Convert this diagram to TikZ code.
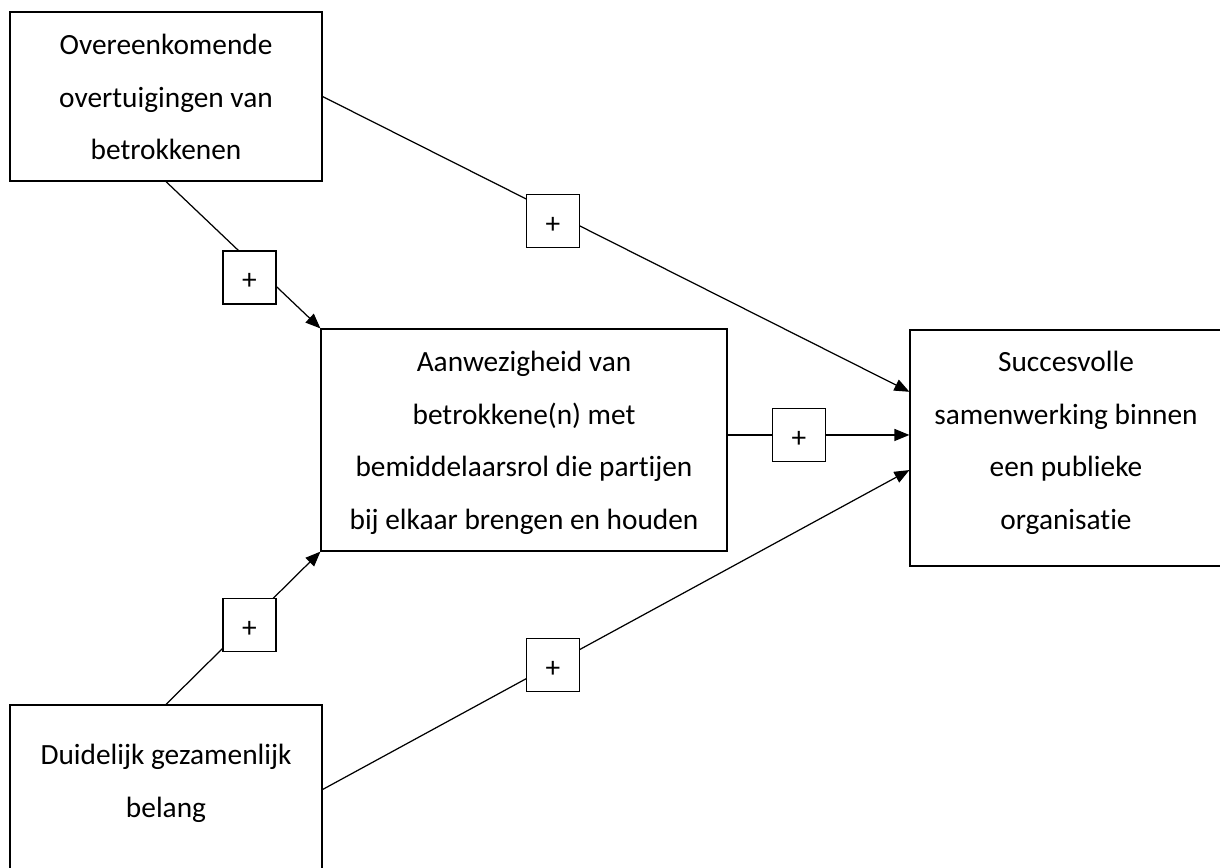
\documentclass[tikz,border=0pt]{standalone}
\usepackage{fontspec}
\setmainfont{Carlito}[Ligatures={NoCommon}]
\usepackage{tikz}
\usetikzlibrary{arrows.meta,calc}

\begin{document}
\begin{tikzpicture}[
    x=0.02cm, y=-0.02cm,
    box/.style={draw, line width=0.7pt, fill=white, inner sep=0pt},
    txt/.style={align=center, inner sep=0pt, font=\fontsize{16.7}{29.9}\selectfont},
    plus/.style={draw, line width=0.7pt, fill=white, minimum size=1.06cm, inner sep=0pt, text height=1.4em, text depth=0pt, font=\fontsize{16.7}{20}\selectfont},
    conn/.style={line width=0.7pt, -{Triangle[length=0.3cm, width=0.24cm]}}
]
\path[use as bounding box, clip] (0,0) rectangle (1220,867);

% Boxes
\node[box, minimum width=6.24cm, minimum height=3.38cm] (over) at (166,96.5) {};
\node[box, minimum width=8.12cm, minimum height=4.44cm] (mid) at (524,440) {};
\node[box, minimum width=6.24cm, minimum height=4.72cm] (succes) at (1066,448) {};
\node[box, minimum width=6.24cm, minimum height=3.38cm] (duid) at (166,789.5) {};

\node[txt] (overtxt) at (166,97) {Overeenkomende\\overtuigingen van\\betrokkenen};
\node[txt] (midtxt) at (524,443) {Aanwezigheid van\\betrokkene(n) met\\bemiddelaarsrol die partijen\\bij elkaar brengen en houden};
\node[txt] (succestxt) at (1066,443) {Succesvolle\\samenwerking binnen\\een publieke\\organisatie};
\node[txt] (duidtxt) at (166,783.5) {Duidelijk gezamenlijk\\belang};

% Inputs on the right box
\coordinate (in1) at ($(succes.north west)!0.263!(succes.south west)$);
\coordinate (in2) at ($(succes.north west)!0.445!(succes.south west)$);
\coordinate (in3) at ($(succes.north west)!0.593!(succes.south west)$);

% Connectors
\draw[conn] (over.south) -- (mid.north west);
\draw[conn] (over.east) -- (in1);
\draw[conn] (mid.east |- in2) -- (in2);
\draw[conn] (duid.north) -- (mid.south west);
\draw[conn] (duid.east) -- (in3);

% Signs
\node[plus] (p1) at (249.5,277.5) {+};
\node[plus] (p2) at (553,221) {+};
\node[plus] (p3) at (799,435) {+};
\node[plus] (p4) at (249.5,624.7) {+};
\node[plus] (p5) at (553,665) {+};
\end{tikzpicture}
\end{document}
